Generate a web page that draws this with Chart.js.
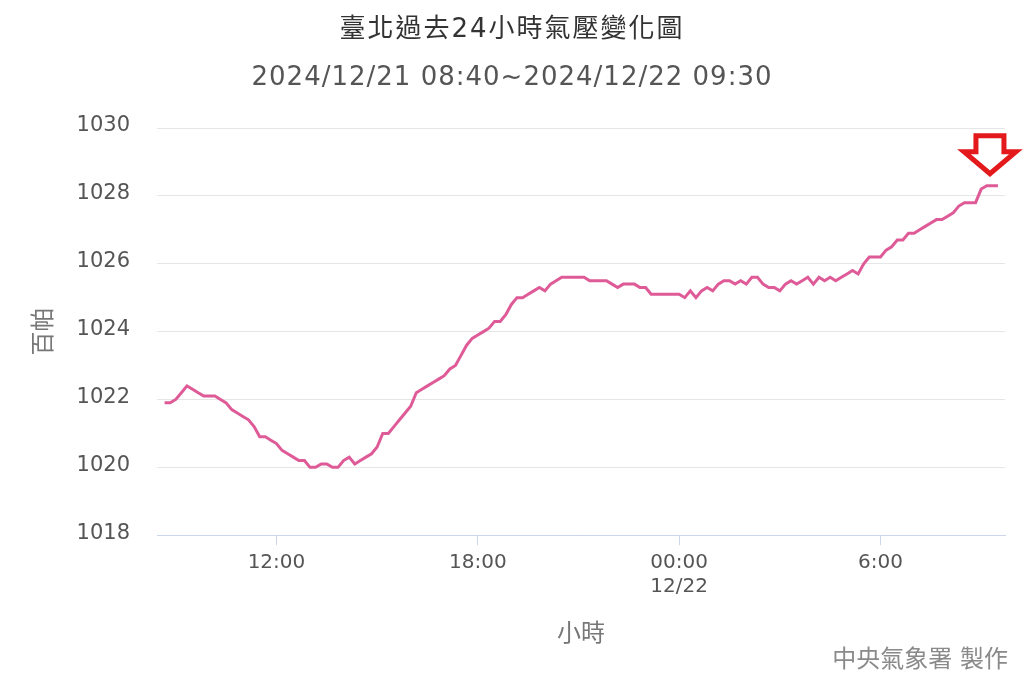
<!DOCTYPE html>
<html>
<head>
<meta charset="utf-8">
<script src="https://cdn.jsdelivr.net/npm/chart.js@4"></script>
<style>
  html, body { margin: 0; padding: 0; background: #fff; }
  #wrap { width: 1024px; height: 683px; }
</style>
</head>
<body>
<div id="wrap"><canvas id="pressureChart" width="1024" height="683"></canvas></div>
<script>
const chartTitle = "臺北過去24小時氣壓變化圖";
const chartSubtitle = "2024/12/21 08:40~2024/12/22 09:30";
const yAxisTitle = "百帕";
const xAxisTitle = "小時";
const creditText = "中央氣象署 製作";

// readings every 10 minutes, first one at 08:40 on 12/21 (hours past 00:00 12/21)
const startHour = 8 + 40 / 60;
const stepHours = 10 / 60;
const pressure = [
    1021.9, 1021.9, 1022.0, 1022.2, 1022.4, 1022.3, 1022.2, 1022.1, 1022.1, 1022.1,
    1022.0, 1021.9, 1021.7, 1021.6, 1021.5, 1021.4, 1021.2, 1020.9, 1020.9, 1020.8,
    1020.7, 1020.5, 1020.4, 1020.3, 1020.2, 1020.2, 1020.0, 1020.0, 1020.1, 1020.1,
    1020.0, 1020.0, 1020.2, 1020.3, 1020.1, 1020.2, 1020.3, 1020.4, 1020.6, 1021.0,
    1021.0, 1021.2, 1021.4, 1021.6, 1021.8, 1022.2, 1022.3, 1022.4, 1022.5, 1022.6,
    1022.7, 1022.9, 1023.0, 1023.3, 1023.6, 1023.8, 1023.9, 1024.0, 1024.1, 1024.3,
    1024.3, 1024.5, 1024.8, 1025.0, 1025.0, 1025.1, 1025.2, 1025.3, 1025.2, 1025.4,
    1025.5, 1025.6, 1025.6, 1025.6, 1025.6, 1025.6, 1025.5, 1025.5, 1025.5, 1025.5,
    1025.4, 1025.3, 1025.4, 1025.4, 1025.4, 1025.3, 1025.3, 1025.1, 1025.1, 1025.1,
    1025.1, 1025.1, 1025.1, 1025.0, 1025.2, 1025.0, 1025.2, 1025.3, 1025.2, 1025.4,
    1025.5, 1025.5, 1025.4, 1025.5, 1025.4, 1025.6, 1025.6, 1025.4, 1025.3, 1025.3,
    1025.2, 1025.4, 1025.5, 1025.4, 1025.5, 1025.6, 1025.4, 1025.6, 1025.5, 1025.6,
    1025.5, 1025.6, 1025.7, 1025.8, 1025.7, 1026.0, 1026.2, 1026.2, 1026.2, 1026.4,
    1026.5, 1026.7, 1026.7, 1026.9, 1026.9, 1027.0, 1027.1, 1027.2, 1027.3, 1027.3,
    1027.4, 1027.5, 1027.7, 1027.8, 1027.8, 1027.8, 1028.2, 1028.3, 1028.3, 1028.3
];

const yTicks = [1018, 1020, 1022, 1024, 1026, 1028, 1030];
const xTickHours = [12, 18, 24, 30];
const xTickLabels = ["12:00", "18:00", ["00:00", "12/22"], "6:00"];

const fontFamily = '"DejaVu Sans", "Noto Sans CJK TC", sans-serif';
const lineColor = "#de5b98";

// draw text stretched to a given width (reference font is wider spaced)
function fillFitted(ctx, text, cx, y, targetWidth) {
    ctx.letterSpacing = "0px";
    const w = ctx.measureText(text).width;
    const extra = (targetWidth - w) / text.length;
    ctx.letterSpacing = extra + "px";
    ctx.textAlign = "left";
    ctx.fillText(text, cx - targetWidth / 2, y);
    ctx.letterSpacing = "0px";
}

const headerPlugin = {
    id: "headerAndCredit",
    afterDraw(chart) {
        const ctx = chart.ctx;
        ctx.save();
        ctx.textBaseline = "middle";

        ctx.fillStyle = "#333";
        ctx.font = "26px " + fontFamily;
        fillFitted(ctx, chartTitle, 512, 30, 345);

        ctx.fillStyle = "#555";
        ctx.font = "26px " + fontFamily;
        fillFitted(ctx, chartSubtitle, 512, 78, 521);

        ctx.fillStyle = "#8a8a8a";
        ctx.font = "24px " + fontFamily;
        ctx.textAlign = "right";
        ctx.fillText(creditText, 1008, 661);
        ctx.restore();
    }
};

// red hollow arrow pointing down at the latest reading
const arrowPlugin = {
    id: "latestArrow",
    afterDatasetsDraw(chart) {
        const meta = chart.getDatasetMeta(0);
        const last = meta.data[meta.data.length - 1];
        const tx = last.x - 8;
        const ty = last.y - 12;
        const ctx = chart.ctx;
        ctx.save();
        ctx.beginPath();
        ctx.moveTo(tx - 14, ty - 38);
        ctx.lineTo(tx + 14, ty - 38);
        ctx.lineTo(tx + 14, ty - 22);
        ctx.lineTo(tx + 26, ty - 22);
        ctx.lineTo(tx, ty);
        ctx.lineTo(tx - 26, ty - 22);
        ctx.lineTo(tx - 14, ty - 22);
        ctx.closePath();
        ctx.fillStyle = "#fff";
        ctx.fill();
        ctx.lineWidth = 5;
        ctx.lineJoin = "miter";
        ctx.strokeStyle = "#e3191c";
        ctx.stroke();
        ctx.restore();
    }
};

document.addEventListener("DOMContentLoaded", function () {
    const ctx = document.getElementById("pressureChart").getContext("2d");

    new Chart(ctx, {
        type: "line",
        data: {
            datasets: [{
                label: "氣壓",
                data: pressure.map((p, i) => ({ x: startHour + i * stepHours, y: p })),
                borderColor: lineColor,
                borderWidth: 3,
                pointRadius: 0,
                tension: 0,
                fill: false,
            }],
        },
        options: {
            responsive: false,
            animation: false,
            devicePixelRatio: 1,
            layout: { padding: { top: 128, left: 6, right: 19, bottom: 27 } },
            scales: {
                x: {
                    type: "linear",
                    min: 8.44,
                    max: 33.71,
                    afterBuildTicks: (axis) => { axis.ticks = xTickHours.map(v => ({ value: v })); },
                    ticks: {
                        autoSkip: false,
                        maxRotation: 0,
                        padding: 6,
                        color: "#555",
                        font: { family: fontFamily, size: 20 },
                        callback: (value) => xTickLabels[xTickHours.indexOf(value)],
                    },
                    grid: { drawOnChartArea: false, drawTicks: true, tickLength: 10, color: "#ccd6eb" },
                    border: { color: "#ccd6eb", width: 1 },
                    title: {
                        display: true,
                        text: xAxisTitle,
                        color: "#777",
                        font: { family: fontFamily, size: 24 },
                        padding: { top: 15, bottom: 7 },
                    },
                },
                y: {
                    min: 1018,
                    max: 1030,
                    afterBuildTicks: (axis) => { axis.ticks = yTicks.map(v => ({ value: v })); },
                    afterFit: (axis) => { axis.width = 151; },
                    ticks: {
                        padding: 27,
                        labelOffset: -2,
                        color: "#555",
                        font: { family: fontFamily, size: 21 },
                        callback: (value) => String(value),
                    },
                    grid: { color: "#e6e6e6", drawTicks: false },
                    border: { display: false },
                    title: {
                        display: true,
                        text: yAxisTitle,
                        color: "#777",
                        font: { family: fontFamily, size: 24 },
                        padding: { top: 24, bottom: 0 },
                    },
                },
            },
            plugins: {
                legend: { display: false },
                tooltip: { enabled: false },
            },
        },
        plugins: [headerPlugin, arrowPlugin],
    });
});
</script>
</body>
</html>
